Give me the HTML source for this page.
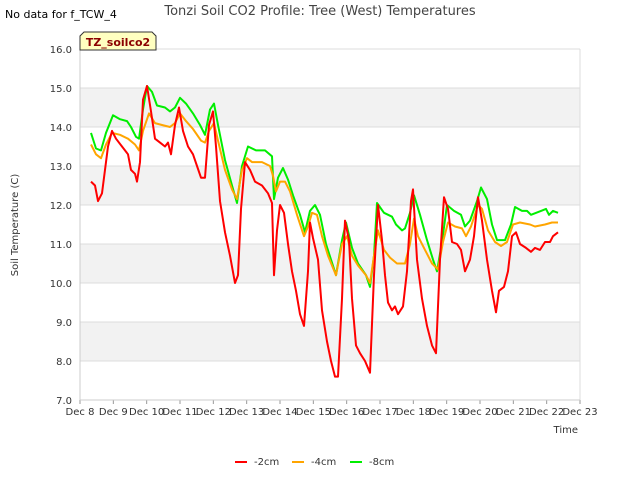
<!DOCTYPE html>
<html><head><meta charset="utf-8"><style>
body{margin:0;background:#fff;font-family:"Liberation Sans","DejaVu Sans",sans-serif}
svg text{font-family:"DejaVu Sans","Liberation Sans",sans-serif}
</style></head><body>
<svg id="chart" width="640" height="480" xmlns="http://www.w3.org/2000/svg">
<text x="5" y="18" font-size="11" fill="#000">No data for f_TCW_4</text>
<text x="320" y="15" font-size="13" fill="#444" text-anchor="middle">Tonzi Soil CO2 Profile: Tree (West) Temperatures</text>
<g id="bands"></g>
<g id="grid"></g>
<g id="yticks"></g>
<g id="xticks"></g>
<g id="series"></g>
<g>
<path d="M80,50 L80,36 L84,32 L152,32 L156,36 L156,50 Z" fill="#ffffc0" stroke="#333" stroke-width="1"/>
<text x="118" y="46" font-size="11" font-weight="bold" fill="#8b0000" text-anchor="middle">TZ_soilco2</text>
</g>
<text x="18" y="225" font-size="10" fill="#333" text-anchor="middle" transform="rotate(-90 18 225)">Soil Temperature (C)</text>
<text x="578" y="433" font-size="10" fill="#333" text-anchor="end">Time</text>
<g id="legend"></g>
</svg>
<script>
const redDays=[0.33,0.45,0.54,0.66,0.75,0.84,0.96,1.08,1.26,1.44,1.53,1.65,1.71,1.80,1.89,2.01,2.13,2.25,2.40,2.55,2.64,2.73,2.85,2.97,3.09,3.24,3.39,3.51,3.63,3.75,3.87,3.99,4.08,4.20,4.35,4.50,4.65,4.74,4.83,4.95,5.10,5.25,5.46,5.64,5.76,5.82,5.91,6.00,6.12,6.24,6.36,6.48,6.60,6.72,6.84,6.90,6.99,7.14,7.26,7.41,7.53,7.65,7.74,7.86,7.95,8.07,8.16,8.28,8.40,8.55,8.70,8.82,8.94,9.06,9.15,9.24,9.36,9.45,9.54,9.69,9.81,9.93,9.99,10.11,10.26,10.41,10.56,10.68,10.80,10.92,11.04,11.16,11.31,11.43,11.55,11.70,11.82,11.94,12.06,12.21,12.36,12.48,12.57,12.72,12.84,12.96,13.08,13.20,13.38,13.53,13.65,13.80,13.95,14.10,14.19,14.34];
const redVals=[12.6,12.5,12.1,12.3,12.9,13.5,13.9,13.7,13.5,13.3,12.9,12.8,12.6,13.1,14.7,15.05,14.4,13.7,13.6,13.5,13.6,13.3,14.05,14.5,13.9,13.5,13.3,13.0,12.7,12.7,14.05,14.4,13.5,12.1,11.3,10.7,10.0,10.2,11.9,13.1,12.9,12.6,12.5,12.3,12.05,10.2,11.35,12.0,11.8,11.0,10.3,9.8,9.2,8.9,10.3,11.55,11.15,10.6,9.3,8.5,8.0,7.6,7.6,9.6,11.6,11.1,9.6,8.4,8.2,8.0,7.7,10.2,12.0,11.1,10.2,9.5,9.3,9.4,9.2,9.4,10.3,12.1,12.4,10.6,9.6,8.9,8.4,8.2,10.6,12.2,11.9,11.05,11.0,10.85,10.3,10.6,11.2,12.2,11.6,10.6,9.8,9.25,9.8,9.9,10.3,11.2,11.3,11.0,10.9,10.8,10.9,10.85,11.05,11.05,11.2,11.3];
const orangeDays=[0.33,0.48,0.63,0.78,0.96,1.2,1.44,1.65,1.77,1.89,2.07,2.25,2.46,2.7,2.85,3.0,3.18,3.39,3.63,3.75,3.87,4.02,4.14,4.35,4.56,4.71,4.86,5.01,5.16,5.46,5.7,5.79,5.88,6.0,6.15,6.3,6.51,6.72,6.84,6.96,7.11,7.26,7.44,7.68,7.86,8.01,8.16,8.34,8.58,8.7,8.82,8.94,9.12,9.3,9.51,9.75,9.9,10.02,10.14,10.35,10.56,10.74,10.89,11.04,11.25,11.46,11.58,11.73,11.94,12.06,12.24,12.45,12.63,12.81,12.99,13.2,13.5,13.65,13.95,14.16,14.34];
const orangeVals=[13.55,13.3,13.2,13.55,13.85,13.8,13.7,13.55,13.4,13.9,14.35,14.1,14.05,14.0,14.1,14.35,14.15,13.95,13.65,13.6,13.9,14.1,13.65,12.9,12.4,12.15,12.9,13.2,13.1,13.1,13.0,12.75,12.35,12.6,12.6,12.35,11.75,11.2,11.45,11.8,11.75,11.2,10.7,10.2,11.0,11.2,10.7,10.45,10.2,10.0,10.7,11.35,10.85,10.65,10.5,10.5,11.0,11.65,11.2,10.85,10.5,10.35,11.05,11.55,11.45,11.4,11.2,11.45,12.0,11.9,11.35,11.05,10.95,11.05,11.5,11.55,11.5,11.45,11.5,11.55,11.55];
const greenDays=[0.33,0.48,0.63,0.78,0.99,1.2,1.41,1.53,1.68,1.77,1.89,2.01,2.16,2.31,2.55,2.7,2.85,3.0,3.18,3.39,3.6,3.75,3.9,4.02,4.14,4.35,4.56,4.71,4.86,5.04,5.28,5.55,5.76,5.82,5.94,6.09,6.24,6.39,6.6,6.75,6.9,7.05,7.2,7.38,7.68,7.86,7.98,8.16,8.34,8.58,8.7,8.82,8.91,9.12,9.36,9.48,9.66,9.75,9.9,10.02,10.2,10.41,10.59,10.71,10.86,11.01,11.22,11.43,11.55,11.7,11.91,12.03,12.21,12.36,12.51,12.75,12.93,13.05,13.26,13.41,13.53,13.83,13.98,14.07,14.19,14.34];
const greenVals=[13.85,13.45,13.4,13.85,14.3,14.2,14.15,14.0,13.75,13.7,14.45,15.05,14.9,14.55,14.5,14.4,14.5,14.75,14.6,14.35,14.05,13.8,14.45,14.6,14.05,13.15,12.5,12.05,13.0,13.5,13.4,13.4,13.25,12.15,12.7,12.95,12.65,12.25,11.75,11.3,11.85,12.0,11.75,11.0,10.2,11.1,11.55,10.9,10.5,10.2,9.9,10.7,12.05,11.8,11.7,11.5,11.35,11.4,11.8,12.25,11.75,11.1,10.6,10.3,11.05,12.0,11.85,11.75,11.45,11.6,12.1,12.45,12.15,11.5,11.1,11.1,11.5,11.95,11.85,11.85,11.75,11.85,11.9,11.75,11.85,11.8];
const yTicks=[7,8,9,10,11,12,13,14,15,16];
const xTickLabels=["Dec 8","Dec 9","Dec 10","Dec 11","Dec 12","Dec 13","Dec 14","Dec 15","Dec 16","Dec 17","Dec 18","Dec 19","Dec 20","Dec 21","Dec 22","Dec 23"];
const seriesNames=["-2cm","-4cm","-8cm"];

const NS="http://www.w3.org/2000/svg";
const L=80,R=580,T=49,B=400,yMin=7,yMax=16,dMax=15;
const xs=d=>L+(R-L)*d/dMax;
const ys=v=>B-(B-T)*(v-yMin)/(yMax-yMin);
function mk(tag,attrs,parent){const e=document.createElementNS(NS,tag);for(const k in attrs)e.setAttribute(k,attrs[k]);parent.appendChild(e);return e;}
const bands=document.getElementById('bands'),grid=document.getElementById('grid'),yt=document.getElementById('yticks'),xt=document.getElementById('xticks'),ser=document.getElementById('series'),leg=document.getElementById('legend');
for(let i=0;i<yTicks.length-1;i++){
  if(i%2===1){const r=mk('rect',{x:L,y:ys(yTicks[i+1]),width:R-L,height:ys(yTicks[i])-ys(yTicks[i+1]),fill:'#f2f2f2'},bands);
  
  }
}
yTicks.forEach(v=>{
  const g=mk('line',{x1:L,x2:R,y1:ys(v),y2:ys(v),stroke:'#dcdcdc','stroke-width':1},grid);
  
  
  const t=mk('text',{x:L-8,y:ys(v)+4,'font-size':10,fill:'#333','text-anchor':'end'},yt);t.textContent=v.toFixed(1);
  
  
});
mk('line',{x1:L,x2:L,y1:T,y2:B,stroke:'#ccc'},grid);
mk('line',{x1:R,x2:R,y1:T,y2:B,stroke:'#dcdcdc'},grid);
xTickLabels.forEach((lab,i)=>{
  mk('line',{x1:xs(i),x2:xs(i),y1:B,y2:B+4,stroke:'#999'},xt);
  const t=mk('text',{x:xs(i),y:B+15,'font-size':10,fill:'#333','text-anchor':'middle'},xt);t.textContent=lab;
  
  
});
mk('line',{x1:L,x2:R,y1:B,y2:B,stroke:'#ccc'},xt);
const all=[[redDays,redVals,'#ff0000'],[orangeDays,orangeVals,'#ffa500'],[greenDays,greenVals,'#00ee00']];
all.slice().reverse().forEach(([d,v,c])=>{
  const p=mk('polyline',{points:d.map((x,i)=>xs(x).toFixed(1)+','+ys(v[i]).toFixed(1)).join(' '),fill:'none',stroke:c,'stroke-width':2,'stroke-linejoin':'round'},ser);
  
  
});
const lx=[235,292,350];
seriesNames.forEach((n,i)=>{
  const g=mk('g',{},leg);
  
  
  mk('line',{x1:lx[i],x2:lx[i]+12,y1:462,y2:462,stroke:all[i][2],'stroke-width':2},g);
  const t=mk('text',{x:lx[i]+19,y:465,'font-size':10,fill:'#333'},g);t.textContent=n;
});
</script>
</body></html>
